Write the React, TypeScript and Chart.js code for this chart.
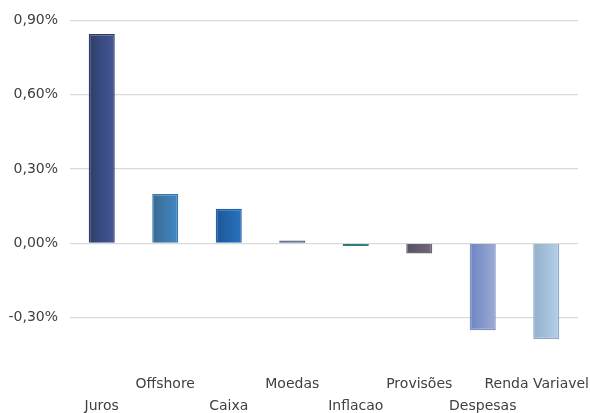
import React, { useEffect, useRef } from 'react';
import { Chart, registerables } from 'chart.js';

Chart.register(...registerables);

const categories = ['Juros', 'Offshore', 'Caixa', 'Moedas', 'Inflacao', 'Provisões', 'Despesas', 'Renda Variavel'];
const values = [0.845, 0.2, 0.14, 0.012, -0.01, -0.04, -0.35, -0.385];
const yTickValues = [-0.3, 0, 0.3, 0.6, 0.9];
const darkColors = ['#2e3d68', '#3b6a90', '#1c5797', '#44536f', '#2a7070', '#58505e', '#6a84c2', '#93b0cc'];
const lightColors = ['#44589a', '#3f88c6', '#2a72bf', '#55698f', '#3a8a8a', '#726a7c', '#9eabd4', '#b3d0e8'];
const borderColors = ['#2d3c68', '#3478b2', '#1e62a8', '#4a5a7a', '#2f7a7a', '#6e6478', '#8193c4', '#8eaac8'];

const FONT = '"DejaVu Sans", "Liberation Sans", Arial, sans-serif';
const BAR_PCT = 0.41;

const staggerLabels = {
  id: 'staggerLabels',
  afterDraw(chart: any) {
    const { ctx, chartArea } = chart;
    const xs = chart.scales.x;
    ctx.save();
    ctx.font = `14px ${FONT}`;
    ctx.fillStyle = '#404040';
    ctx.textBaseline = 'middle';
    ctx.textAlign = 'center';
    categories.forEach((label, i) => {
      const w = ctx.measureText(label).width;
      let x = xs.getPixelForValue(i);
      x = Math.min(x, chart.width - 1 - w / 2);
      const y = chartArea.bottom + (i % 2 === 1 ? 29 : 51);
      ctx.fillText(label, x, y);
    });
    ctx.restore();
  },
};

function barGradient(ctx: any) {
  const chart = ctx.chart;
  const i = ctx.dataIndex;
  if (!chart.chartArea || !chart.scales.x) return darkColors[i];
  const xs = chart.scales.x;
  const band = xs.width / categories.length;
  const cx = xs.getPixelForValue(i);
  const x0 = cx - (band * BAR_PCT) / 2;
  const x1 = cx + (band * BAR_PCT) / 2;
  const g = chart.ctx.createLinearGradient(x0, 0, x1, 0);
  g.addColorStop(0, darkColors[i]);
  g.addColorStop(1, lightColors[i]);
  return g;
}

export default function App() {
  const ref = useRef<HTMLCanvasElement | null>(null);

  useEffect(() => {
    if (!ref.current) return;
    const chart = new Chart(ref.current, {
      type: 'bar',
      data: {
        labels: categories,
        datasets: [
          {
            data: values,
            backgroundColor: barGradient as any,
            borderColor: borderColors,
            borderWidth: 1.5,
            categoryPercentage: 1,
            barPercentage: BAR_PCT,
          },
        ],
      },
      options: {
        animation: false,
        responsive: true,
        maintainAspectRatio: false,
        layout: { padding: { top: 13, right: 12, bottom: 58, left: 0 } },
        plugins: { legend: { display: false }, tooltip: { enabled: false } },
        scales: {
          x: { display: false },
          y: {
            min: -0.45,
            max: 0.9,
            afterBuildTicks: (scale: any) => {
              scale.ticks = yTickValues.map((v) => ({ value: v }));
            },
            afterFit: (scale: any) => {
              scale.width = 70;
            },
            border: { display: false },
            grid: { color: '#d9d9d9', lineWidth: 1.3, drawTicks: false },
            ticks: {
              padding: 12,
              color: '#404040',
              font: { family: FONT, size: 14 },
              callback: (v: any) => Number(v).toFixed(2).replace('.', ',') + '%',
            },
          },
        },
      },
      plugins: [staggerLabels],
    });
    return () => chart.destroy();
  }, []);

  return (
    <div style={{ position: 'fixed', left: 0, top: 0, width: 590, height: 413, background: '#fff' }}>
      <canvas ref={ref} />
    </div>
  );
}
